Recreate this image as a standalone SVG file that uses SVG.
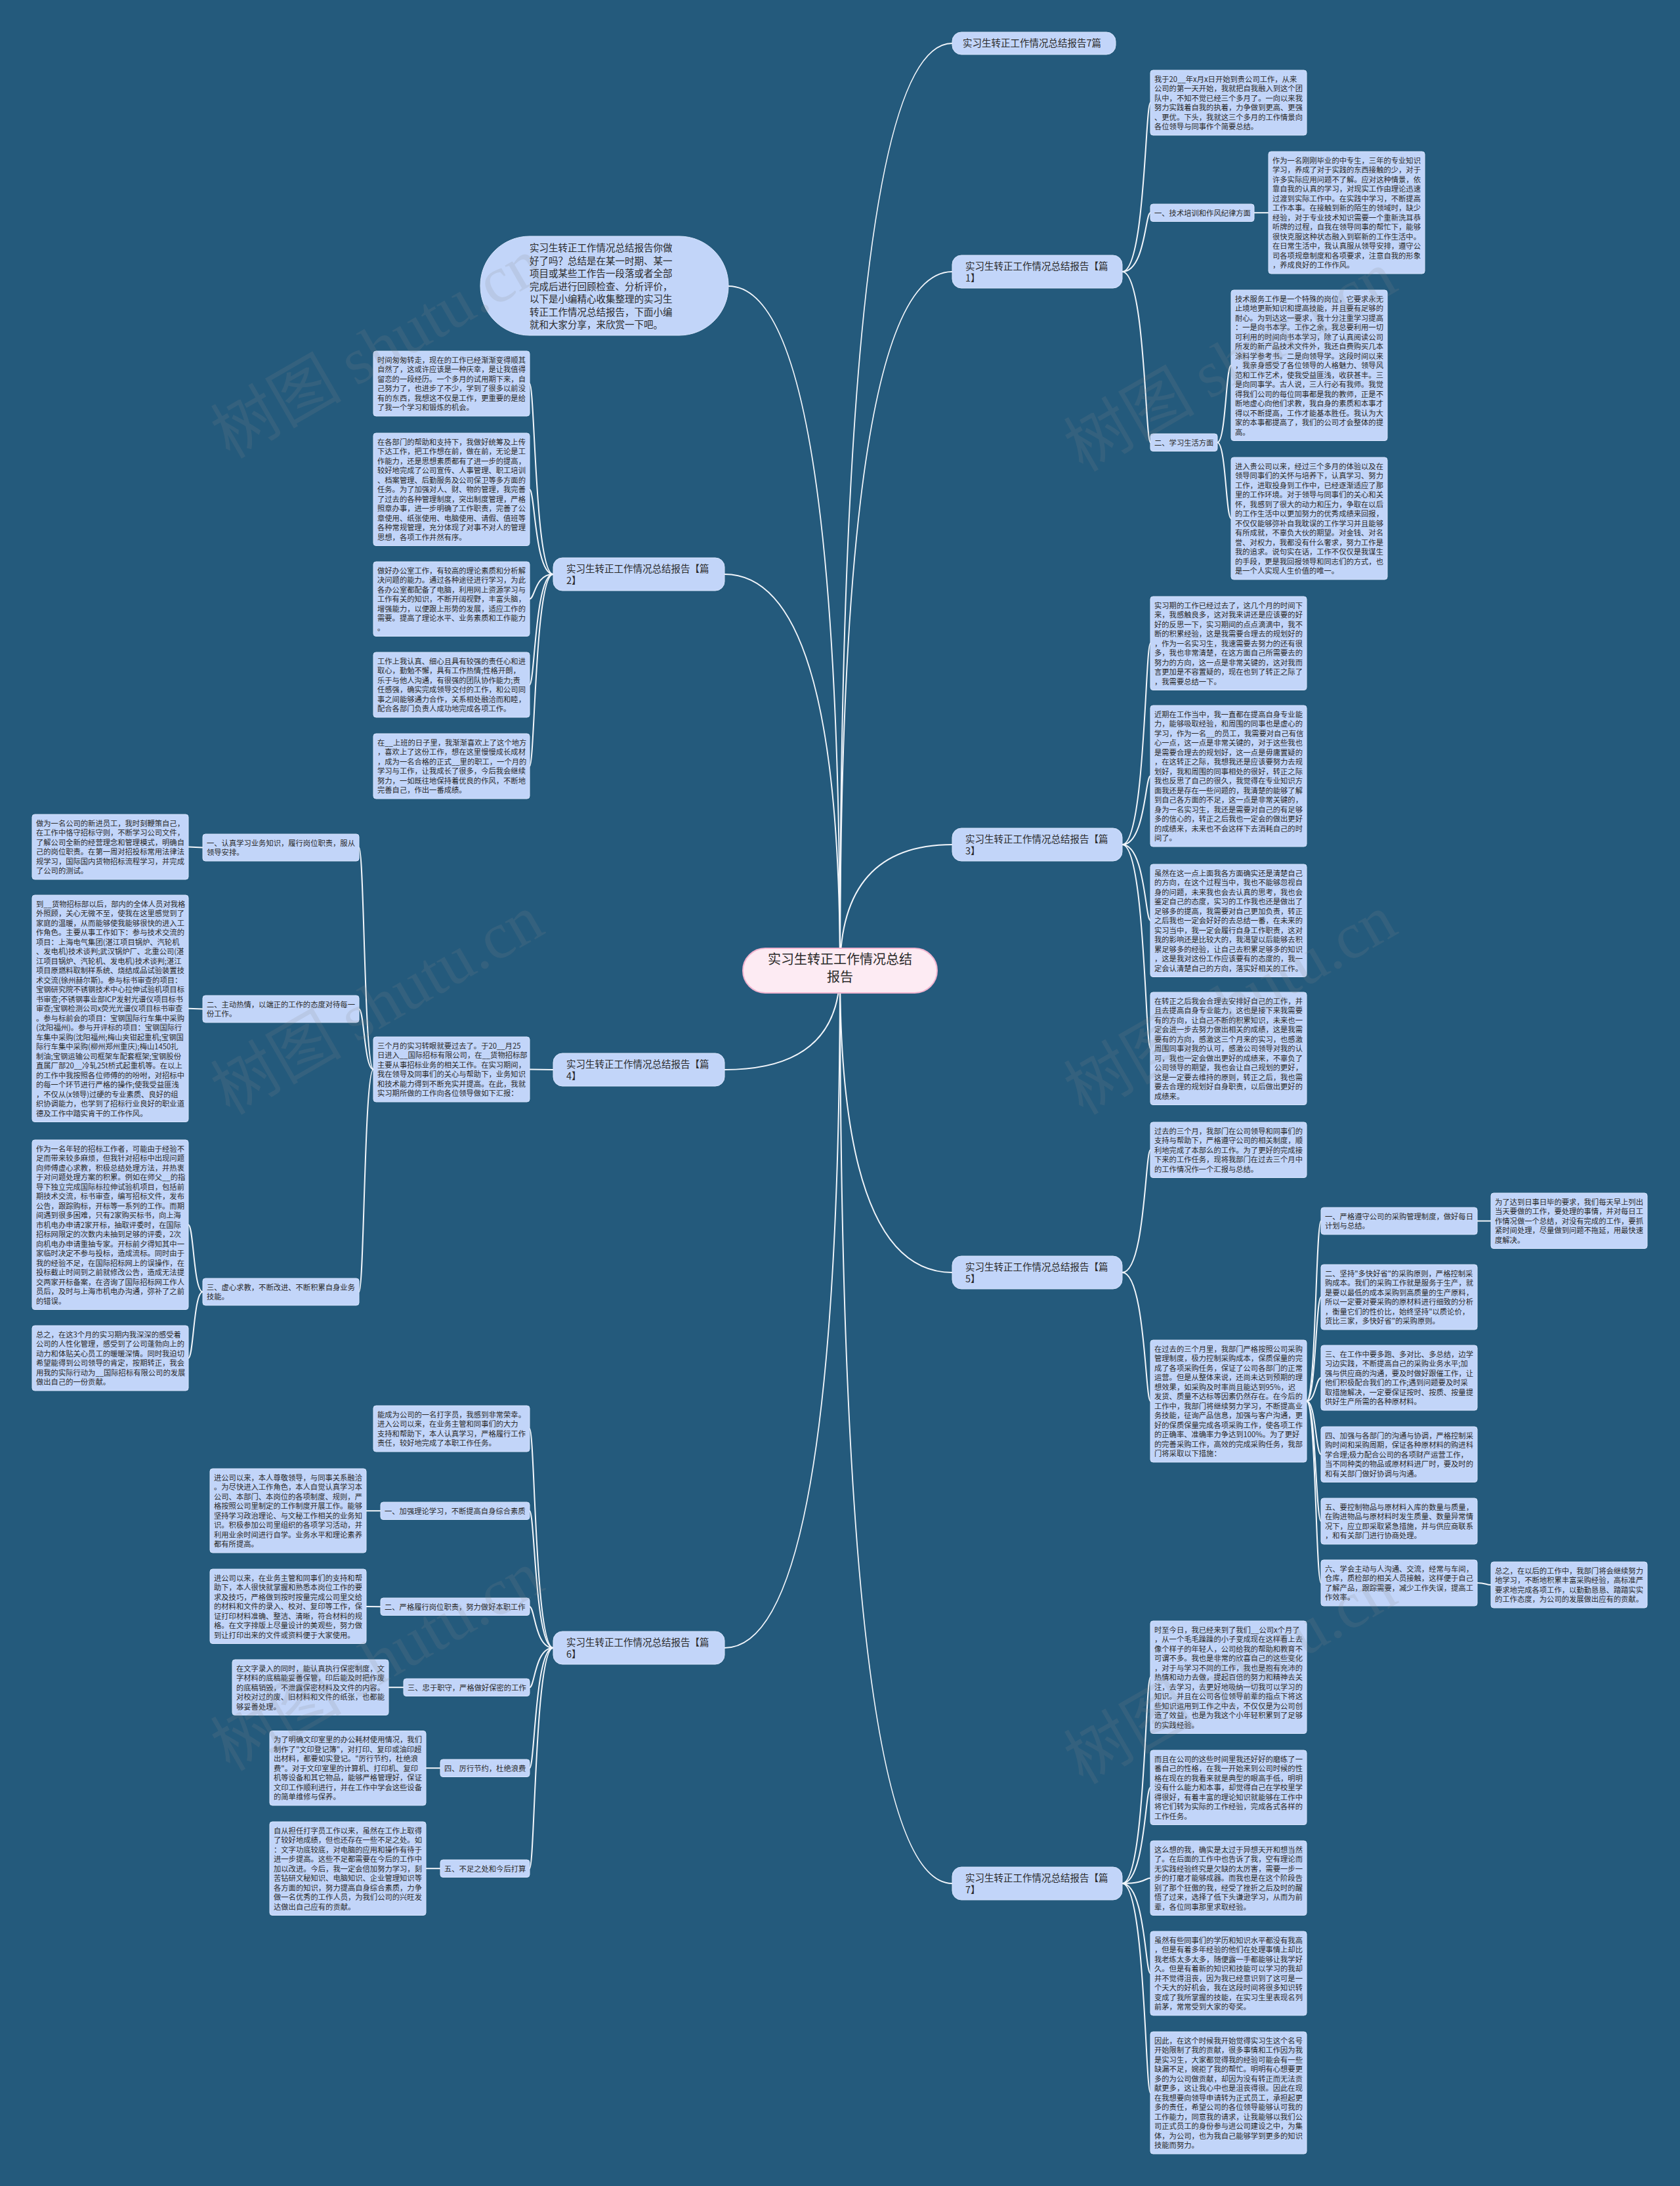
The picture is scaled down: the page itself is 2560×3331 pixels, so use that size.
<svg xmlns="http://www.w3.org/2000/svg" width="2560" height="3331" viewBox="0 0 2560 3331">
<style>
.bg{fill:#245a7c}
.box{fill:#c2d5f9;stroke:#d9e5fd;stroke-width:1}
.n1{fill:#c2d5f9;stroke:#d9e5fd;stroke-width:1}
.t{font-family:'Noto Sans CJK SC','Noto Sans',sans-serif;font-size:11.3px;fill:#2a2a2a}
.t1{font-family:'Noto Sans CJK SC','Noto Sans',sans-serif;font-size:14.5px;fill:#2a2a2a}
.c{fill:none;stroke:#f2f6fb;stroke-width:2}
.wm{font-family:'Noto Sans CJK SC','Liberation Serif',serif;font-size:100px;fill:#8a8a8a;opacity:0.16}
</style>
<rect class="bg" x="0" y="0" width="2560" height="3331"/>

<g id="connectors">
<path class="c" d="M1280,1479 Q1280,66 1451,66"/>
<path class="c" d="M1280,1479 Q1280,414 1451,414"/>
<path class="c" d="M1280,1479 Q1280,1287 1451,1287"/>
<path class="c" d="M1280,1479 Q1280,1939 1451,1939"/>
<path class="c" d="M1280,1479 Q1280,2870 1451,2870"/>
<path class="c" d="M1280,1479 Q1280,436 1110,436"/>
<path class="c" d="M1280,1479 Q1280,875 1104,875"/>
<path class="c" d="M1280,1479 Q1280,1630 1104,1630"/>
<path class="c" d="M1280,1479 Q1280,2511 1104,2511"/>

<path class="c" d="M1710,414 C1745,414 1745,156.5 1753,156.5"/>
<path class="c" d="M1710,414 C1745,414 1745,324.2 1753,324.2"/>
<path class="c" d="M1710,414 C1745,414 1745,674.2 1753,674.2"/>
<path class="c" d="M1911,324.2 L1933,324.2"/>
<path class="c" d="M1855,674.2 C1868,674.2 1868,556.7 1876,556.7"/>
<path class="c" d="M1855,674.2 C1868,674.2 1868,790 1876,790"/>

<path class="c" d="M1710,1287 C1745,1287 1745,980.2 1753,980.2"/>
<path class="c" d="M1710,1287 C1745,1287 1745,1182.5 1753,1182.5"/>
<path class="c" d="M1710,1287 C1745,1287 1745,1402.7 1753,1402.7"/>
<path class="c" d="M1710,1287 C1745,1287 1745,1597.7 1753,1597.7"/>

<path class="c" d="M1710,1939 C1745,1939 1745,1752.2 1753,1752.2"/>
<path class="c" d="M1710,1939 C1745,1939 1745,2135 1753,2135"/>
<path class="c" d="M1991,2135 C2005,2135 2005,1860.5 2013,1860.5"/>
<path class="c" d="M1991,2135 C2005,2135 2005,1976.5 2013,1976.5"/>
<path class="c" d="M1991,2135 C2005,2135 2005,2099.5 2013,2099.5"/>
<path class="c" d="M1991,2135 C2005,2135 2005,2216.2 2013,2216.2"/>
<path class="c" d="M1991,2135 C2005,2135 2005,2318 2013,2318"/>
<path class="c" d="M1991,2135 C2005,2135 2005,2412 2013,2412"/>
<path class="c" d="M2251,1860.5 L2272,1860.5"/>
<path class="c" d="M2251,2412 C2264,2412 2264,2415 2272,2415"/>

<path class="c" d="M1710,2870 C1745,2870 1745,2555.7 1753,2555.7"/>
<path class="c" d="M1710,2870 C1745,2870 1745,2723.7 1753,2723.7"/>
<path class="c" d="M1710,2870 C1745,2870 1745,2861.7 1753,2861.7"/>
<path class="c" d="M1710,2870 C1745,2870 1745,3007 1753,3007"/>
<path class="c" d="M1710,2870 C1745,2870 1745,3189 1753,3189"/>

<path class="c" d="M843,875 C815,875 815,584.5 807,584.5"/>
<path class="c" d="M843,875 C815,875 815,745.7 807,745.7"/>
<path class="c" d="M843,875 C815,875 815,912.7 807,912.7"/>
<path class="c" d="M843,875 C815,875 815,1043.5 807,1043.5"/>
<path class="c" d="M843,875 C815,875 815,1167.5 807,1167.5"/>

<path class="c" d="M843,1630 L807,1629.5"/>
<path class="c" d="M569,1629.5 C555,1629.5 555,1291.5 547,1291.5"/>
<path class="c" d="M569,1629.5 C555,1629.5 555,1537.5 547,1537.5"/>
<path class="c" d="M569,1629.5 C555,1629.5 555,1968.5 547,1968.5"/>
<path class="c" d="M309,1291.5 L287,1290.5"/>
<path class="c" d="M309,1537.5 L287,1536.7"/>
<path class="c" d="M309,1968.5 C295,1968.5 295,1866.2 287,1866.2"/>
<path class="c" d="M309,1968.5 C295,1968.5 295,2069.5 287,2069.5"/>

<path class="c" d="M843,2511 C815,2511 815,2177 807,2177"/>
<path class="c" d="M843,2511 C815,2511 815,2302.2 807,2302.2"/>
<path class="c" d="M843,2511 C815,2511 815,2448.2 807,2448.2"/>
<path class="c" d="M843,2511 C815,2511 815,2571.2 807,2571.2"/>
<path class="c" d="M843,2511 C815,2511 815,2694.2 807,2694.2"/>
<path class="c" d="M843,2511 C815,2511 815,2847.2 807,2847.2"/>
<path class="c" d="M580,2302.2 L558,2302.2"/>
<path class="c" d="M580,2448.2 L558,2448"/>
<path class="c" d="M615,2571.2 L592,2571.2"/>
<path class="c" d="M671,2694.2 L649,2694.2"/>
<path class="c" d="M671,2847.2 L649,2847.2"/>
</g>

<g id="center">
<rect x="1132" y="1445" width="296" height="68" rx="34" fill="#fdebf3" stroke="#f1b4cf" stroke-width="2"/>
<text x="1280" y="1469" text-anchor="middle" font-family="'Noto Sans CJK SC','Noto Sans',sans-serif" font-size="20" fill="#2a2a2a"><tspan x="1280" dy="0">实习生转正工作情况总结</tspan><tspan x="1280" dy="27">报告</tspan></text>
</g>

<g id="intro">
<rect class="box" x="732" y="360" width="378" height="151" rx="75"/>
<text class="t1" x="807" y="383"><tspan x="807" dy="0">实习生转正工作情况总结报告你做</tspan><tspan x="807" dy="19.5">好了吗？总结是在某一时期、某一</tspan><tspan x="807" dy="19.5">项目或某些工作告一段落或者全部</tspan><tspan x="807" dy="19.5">完成后进行回顾检查、分析评价，</tspan><tspan x="807" dy="19.5">以下是小编精心收集整理的实习生</tspan><tspan x="807" dy="19.5">转正工作情况总结报告，下面小编</tspan><tspan x="807" dy="19.5">就和大家分享，来欣赏一下吧。</tspan></text>
</g>

<g id="title7">
<rect class="n1" x="1451" y="49" width="249" height="34" rx="14"/>
<text class="t1" x="1467" y="71">实习生转正工作情况总结报告7篇</text>
</g>

<g id="p1">
<rect class="n1" x="1451" y="389" width="259" height="50" rx="14"/>
<text class="t1" x="1471" y="410.5"><tspan x="1471" dy="0">实习生转正工作情况总结报告【篇</tspan><tspan x="1471" dy="18">1】</tspan></text>
</g>
<g id="p1a">
<rect class="box" x="1753" y="107" width="238" height="99" rx="4"/>
<text class="t" x="1759" y="124.5"><tspan x="1759" dy="0">我于20__年x月x日开始到贵公司工作，从来</tspan><tspan x="1759" dy="14.5">公司的第一天开始，我就把自我融入到这个团</tspan><tspan x="1759" dy="14.5">队中，不知不觉已经三个多月了。一向以来我</tspan><tspan x="1759" dy="14.5">努力实践着自我的执着，力争做到更高、更强</tspan><tspan x="1759" dy="14.5">、更优。下头，我就这三个多月的工作情景向</tspan><tspan x="1759" dy="14.5">各位领导与同事作个简要总结。</tspan></text>
</g>
<g id="p1l1">
<rect class="box" x="1753" y="311" width="158" height="26.5" rx="4"/>
<text class="t" x="1759" y="328.5">一、技术培训和作风纪律方面</text>
</g>
<g id="p1b">
<rect class="box" x="1933" y="231" width="238" height="186" rx="4"/>
<text class="t" x="1939" y="248.5"><tspan x="1939" dy="0">作为一名刚刚毕业的中专生，三年的专业知识</tspan><tspan x="1939" dy="14.5">学习，养成了对于实践的东西接触的少，对于</tspan><tspan x="1939" dy="14.5">许多实际应用问题不了解。应对这种情景，依</tspan><tspan x="1939" dy="14.5">靠自我的认真的学习，对现实工作由理论迅速</tspan><tspan x="1939" dy="14.5">过渡到实际工作中。在实践中学习，不断提高</tspan><tspan x="1939" dy="14.5">工作本事。在接触到新的陌生的领域时，缺少</tspan><tspan x="1939" dy="14.5">经验，对于专业技术知识需要一个重新洗耳恭</tspan><tspan x="1939" dy="14.5">听牌的过程，自我在领导同事的帮忙下，能够</tspan><tspan x="1939" dy="14.5">很快克服这种状态融入到崭新的工作生活中。</tspan><tspan x="1939" dy="14.5">在日常生活中，我认真服从领导安排，遵守公</tspan><tspan x="1939" dy="14.5">司各项规章制度和各项要求，注意自我的形象</tspan><tspan x="1939" dy="14.5">，养成良好的工作作风。</tspan></text>
</g>
<g id="p1l2">
<rect class="box" x="1753" y="661" width="102" height="26.5" rx="4"/>
<text class="t" x="1759" y="678.5">二、学习生活方面</text>
</g>
<g id="p1c">
<rect class="box" x="1876" y="442" width="238" height="229.5" rx="4"/>
<text class="t" x="1882" y="459.5"><tspan x="1882" dy="0">技术服务工作是一个特殊的岗位，它要求永无</tspan><tspan x="1882" dy="14.5">止境地更新知识和提高技能，并且要有足够的</tspan><tspan x="1882" dy="14.5">耐心。为到达这一要求，我十分注重学习提高</tspan><tspan x="1882" dy="14.5">：一是向书本学。工作之余，我总要利用一切</tspan><tspan x="1882" dy="14.5">可利用的时间向书本学习，除了认真阅读公司</tspan><tspan x="1882" dy="14.5">所发的新产品技术文件外，我还自费购买几本</tspan><tspan x="1882" dy="14.5">涂料学参考书。二是向领导学。这段时间以来</tspan><tspan x="1882" dy="14.5">，我亲身感受了各位领导的人格魅力、领导风</tspan><tspan x="1882" dy="14.5">范和工作艺术，使我受益匪浅，收获甚丰。三</tspan><tspan x="1882" dy="14.5">是向同事学。古人说，三人行必有我师。我觉</tspan><tspan x="1882" dy="14.5">得我们公司的每位同事都是我的教师，正是不</tspan><tspan x="1882" dy="14.5">断地虚心向他们求教，我自身的素质和本事才</tspan><tspan x="1882" dy="14.5">得以不断提高，工作才能基本胜任。我认为大</tspan><tspan x="1882" dy="14.5">家的本事都提高了，我们的公司才会整体的提</tspan><tspan x="1882" dy="14.5">高。</tspan></text>
</g>
<g id="p1d">
<rect class="box" x="1876" y="697" width="238" height="186" rx="4"/>
<text class="t" x="1882" y="714.5"><tspan x="1882" dy="0">进入贵公司以来，经过三个多月的体验以及在</tspan><tspan x="1882" dy="14.5">领导同事们的关怀与培养下，认真学习、努力</tspan><tspan x="1882" dy="14.5">工作，进取投身到工作中，已经逐渐适应了那</tspan><tspan x="1882" dy="14.5">里的工作环境。对于领导与同事们的关心和关</tspan><tspan x="1882" dy="14.5">怀，我感到了很大的动力和压力，争取在以后</tspan><tspan x="1882" dy="14.5">的工作生活中以更加努力的优秀成绩来回报，</tspan><tspan x="1882" dy="14.5">不仅仅能够弥补自我耽误的工作学习并且能够</tspan><tspan x="1882" dy="14.5">有所成就，不辜负大伙的期望。对金钱、对名</tspan><tspan x="1882" dy="14.5">誉、对权力，我都没有什么奢求，努力工作是</tspan><tspan x="1882" dy="14.5">我的追求。说句实在话，工作不仅仅是我谋生</tspan><tspan x="1882" dy="14.5">的手段，更是我回报领导和同志们的方式，也</tspan><tspan x="1882" dy="14.5">是一个人实现人生价值的唯一。</tspan></text>
</g>

<g id="p3">
<rect class="n1" x="1451" y="1262" width="259" height="50" rx="14"/>
<text class="t1" x="1471" y="1283.5"><tspan x="1471" dy="0">实习生转正工作情况总结报告【篇</tspan><tspan x="1471" dy="18">3】</tspan></text>
</g>
<g id="p3a">
<rect class="box" x="1753" y="909" width="238" height="142.5" rx="4"/>
<text class="t" x="1759" y="926.5"><tspan x="1759" dy="0">实习期的工作已经过去了，这几个月的时间下</tspan><tspan x="1759" dy="14.5">来，我感触良多，这对我来讲还是应该要的好</tspan><tspan x="1759" dy="14.5">好的反思一下，实习期间的点点滴滴中，我不</tspan><tspan x="1759" dy="14.5">断的积累经验，这是我需要合理去的规划好的</tspan><tspan x="1759" dy="14.5">，作为一名实习生，我速需要去努力的还有很</tspan><tspan x="1759" dy="14.5">多，我也非常清楚，在这方面自己所需要去的</tspan><tspan x="1759" dy="14.5">努力的方向，这一点是非常关键的，这对我而</tspan><tspan x="1759" dy="14.5">言更加是不容置疑的，现在也到了转正之际了</tspan><tspan x="1759" dy="14.5">，我需要总结一下。</tspan></text>
</g>
<g id="p3b">
<rect class="box" x="1753" y="1075" width="238" height="215" rx="4"/>
<text class="t" x="1759" y="1092.5"><tspan x="1759" dy="0">近期在工作当中，我一直都在提高自身专业能</tspan><tspan x="1759" dy="14.5">力，能够吸取经验，和周围的同事也是虚心的</tspan><tspan x="1759" dy="14.5">学习，作为一名__的员工，我需要对自己有信</tspan><tspan x="1759" dy="14.5">心一点，这一点是非常关键的，对于这些我也</tspan><tspan x="1759" dy="14.5">是需要合理去的规划好，这一点是毋庸置疑的</tspan><tspan x="1759" dy="14.5">，在这转正之际，我想我还是应该要努力去规</tspan><tspan x="1759" dy="14.5">划好，我和周围的同事相处的很好，转正之际</tspan><tspan x="1759" dy="14.5">我也反思了自己的很久，我觉得在专业知识方</tspan><tspan x="1759" dy="14.5">面我还是存在一些问题的，我清楚的能够了解</tspan><tspan x="1759" dy="14.5">到自己各方面的不足，这一点是非常关键的，</tspan><tspan x="1759" dy="14.5">身为一名实习生，我还是需要对自己的有足够</tspan><tspan x="1759" dy="14.5">多的信心的，转正之后我也一定会的做出更好</tspan><tspan x="1759" dy="14.5">的成绩来，未来也不会这样下去消耗自己的时</tspan><tspan x="1759" dy="14.5">间了。</tspan></text>
</g>
<g id="p3c">
<rect class="box" x="1753" y="1317" width="238" height="171.5" rx="4"/>
<text class="t" x="1759" y="1334.5"><tspan x="1759" dy="0">虽然在这一点上面我各方面确实还是清楚自己</tspan><tspan x="1759" dy="14.5">的方向，在这个过程当中，我也不能够忽视自</tspan><tspan x="1759" dy="14.5">身的问题，未来我也会去认真的思考，我也会</tspan><tspan x="1759" dy="14.5">鉴定自己的态度，实习的工作我也还是做出了</tspan><tspan x="1759" dy="14.5">足够多的提高，我需要对自己更加负责，转正</tspan><tspan x="1759" dy="14.5">之后我也一定会好好的去总结一番，在未来的</tspan><tspan x="1759" dy="14.5">实习当中，我一定会履行自身工作职责，这对</tspan><tspan x="1759" dy="14.5">我的影响还是比较大的，我渴望以后能够去积</tspan><tspan x="1759" dy="14.5">累足够多的经验，让自己去积累足够多的知识</tspan><tspan x="1759" dy="14.5">，这是我对这份工作应该要有的态度的，我一</tspan><tspan x="1759" dy="14.5">定会认清楚自己的方向，落实好相关的工作。</tspan></text>
</g>
<g id="p3d">
<rect class="box" x="1753" y="1512" width="238" height="171.5" rx="4"/>
<text class="t" x="1759" y="1529.5"><tspan x="1759" dy="0">在转正之后我会合理去安排好自己的工作，并</tspan><tspan x="1759" dy="14.5">且去提高自身专业能力，这也是接下来我需要</tspan><tspan x="1759" dy="14.5">有的方向，让自己不断的积累知识，未来也一</tspan><tspan x="1759" dy="14.5">定会进一步去努力做出相关的成绩，这是我需</tspan><tspan x="1759" dy="14.5">要有的方向，感激这三个月来的实习，也感激</tspan><tspan x="1759" dy="14.5">周围同事对我的认可，感激公司领导对我的认</tspan><tspan x="1759" dy="14.5">可，我也一定会做出更好的成绩来，不辜负了</tspan><tspan x="1759" dy="14.5">公司领导的期望，我也会让自己规划的更好，</tspan><tspan x="1759" dy="14.5">这是一定要去维持的原则，转正之后，我也需</tspan><tspan x="1759" dy="14.5">要去合理的规划好自身职责，以后做出更好的</tspan><tspan x="1759" dy="14.5">成绩来。</tspan></text>
</g>

<g id="p5">
<rect class="n1" x="1451" y="1914" width="259" height="50" rx="14"/>
<text class="t1" x="1471" y="1935.5"><tspan x="1471" dy="0">实习生转正工作情况总结报告【篇</tspan><tspan x="1471" dy="18">5】</tspan></text>
</g>
<g id="p5a">
<rect class="box" x="1753" y="1710" width="238" height="84.5" rx="4"/>
<text class="t" x="1759" y="1727.5"><tspan x="1759" dy="0">过去的三个月，我部门在公司领导和同事们的</tspan><tspan x="1759" dy="14.5">支持与帮助下，严格遵守公司的相关制度，顺</tspan><tspan x="1759" dy="14.5">利地完成了本部么的工作。为了更好的完成接</tspan><tspan x="1759" dy="14.5">下来的工作任务，现将我部门在过去三个月中</tspan><tspan x="1759" dy="14.5">的工作情况作一个汇报与总结。</tspan></text>
</g>
<g id="p5b">
<rect class="box" x="1753" y="2042" width="238" height="186" rx="4"/>
<text class="t" x="1759" y="2059.5"><tspan x="1759" dy="0">在过去的三个月里，我部门严格按照公司采购</tspan><tspan x="1759" dy="14.5">管理制度，极力控制采购成本，保质保量的完</tspan><tspan x="1759" dy="14.5">成了各项采购任务，保证了公司各部门的正常</tspan><tspan x="1759" dy="14.5">运营。但是从整体来说，还尚未达到预期的理</tspan><tspan x="1759" dy="14.5">想效果，如采购及时率尚且能达到95%，迟</tspan><tspan x="1759" dy="14.5">发货、质量不达标等因素仍然存在。在今后的</tspan><tspan x="1759" dy="14.5">工作中，我部门将继续努力学习，不断提高业</tspan><tspan x="1759" dy="14.5">务技能，征询产品信息，加强与客户沟通，更</tspan><tspan x="1759" dy="14.5">好的保质保量完成各项采购工作，使各项工作</tspan><tspan x="1759" dy="14.5">的正确率、准确率力争达到100%。为了更好</tspan><tspan x="1759" dy="14.5">的完善采购工作，高效的完成采购任务，我部</tspan><tspan x="1759" dy="14.5">门将采取以下措施：</tspan></text>
</g>
<g id="p5i1">
<rect class="box" x="2013" y="1840" width="238" height="41" rx="4"/>
<text class="t" x="2019" y="1857.5"><tspan x="2019" dy="0">一、严格遵守公司的采购管理制度，做好每日</tspan><tspan x="2019" dy="14.5">计划与总结。</tspan></text>
</g>
<g id="p5i2">
<rect class="box" x="2013" y="1927" width="238" height="99" rx="4"/>
<text class="t" x="2019" y="1944.5"><tspan x="2019" dy="0">二、坚持"多快好省"的采购原则，严格控制采</tspan><tspan x="2019" dy="14.5">购成本。我们的采购工作就是服务于生产，就</tspan><tspan x="2019" dy="14.5">是要以最低的成本采购到高质量的生产原料，</tspan><tspan x="2019" dy="14.5">所以一定要对要采购的原材料进行细致的分析</tspan><tspan x="2019" dy="14.5">，衡量它们的性价比，始终坚持"以质论价，</tspan><tspan x="2019" dy="14.5">货比三家，多快好省"的采购原则。</tspan></text>
</g>
<g id="p5i3">
<rect class="box" x="2013" y="2050" width="238" height="99" rx="4"/>
<text class="t" x="2019" y="2067.5"><tspan x="2019" dy="0">三、在工作中要多跑、多对比、多总结，边学</tspan><tspan x="2019" dy="14.5">习边实践，不断提高自己的采购业务水平;加</tspan><tspan x="2019" dy="14.5">强与供应商的沟通，要及时做好跟催工作，让</tspan><tspan x="2019" dy="14.5">他们积极配合我们的工作;遇到问题要及时采</tspan><tspan x="2019" dy="14.5">取措施解决，一定要保证按时、按质、按量提</tspan><tspan x="2019" dy="14.5">供好生产所需的各种原材料。</tspan></text>
</g>
<g id="p5i4">
<rect class="box" x="2013" y="2174" width="238" height="84.5" rx="4"/>
<text class="t" x="2019" y="2191.5"><tspan x="2019" dy="0">四、加强与各部门的沟通与协调，严格控制采</tspan><tspan x="2019" dy="14.5">购时间和采购周期，保证各种原材料的购进科</tspan><tspan x="2019" dy="14.5">学合理;极力配合公司的各项财产运营工作，</tspan><tspan x="2019" dy="14.5">当不同种类的物品或原材料进厂时，要及时的</tspan><tspan x="2019" dy="14.5">和有关部门做好协调与沟通。</tspan></text>
</g>
<g id="p5i5">
<rect class="box" x="2013" y="2283" width="238" height="70" rx="4"/>
<text class="t" x="2019" y="2300.5"><tspan x="2019" dy="0">五、要控制物品与原材料入库的数量与质量，</tspan><tspan x="2019" dy="14.5">在购进物品与原材料时发生质量、数量异常情</tspan><tspan x="2019" dy="14.5">况下，应立即采取紧急措施，并与供应商联系</tspan><tspan x="2019" dy="14.5">，和有关部门进行协商处理。</tspan></text>
</g>
<g id="p5i6">
<rect class="box" x="2013" y="2377" width="238" height="70" rx="4"/>
<text class="t" x="2019" y="2394.5"><tspan x="2019" dy="0">六、学会主动与人沟通、交流，经常与车间，</tspan><tspan x="2019" dy="14.5">仓库，质检部的相关人员接触，这样便于自己</tspan><tspan x="2019" dy="14.5">了解产品，跟踪需要，减少工作失误，提高工</tspan><tspan x="2019" dy="14.5">作效率。</tspan></text>
</g>
<g id="p5r1">
<rect class="box" x="2272" y="1818" width="238" height="84.5" rx="4"/>
<text class="t" x="2278" y="1835.5"><tspan x="2278" dy="0">为了达到日事日毕的要求，我们每天早上列出</tspan><tspan x="2278" dy="14.5">当天要做的工作，要处理的事情，并对每日工</tspan><tspan x="2278" dy="14.5">作情况做一个总结，对没有完成的工作，要抓</tspan><tspan x="2278" dy="14.5">紧时间处理，尽量做到问题不拖延，用最快速</tspan><tspan x="2278" dy="14.5">度解决。</tspan></text>
</g>
<g id="p5r2">
<rect class="box" x="2272" y="2380" width="238" height="70" rx="4"/>
<text class="t" x="2278" y="2397.5"><tspan x="2278" dy="0">总之，在以后的工作中，我部门将会继续努力</tspan><tspan x="2278" dy="14.5">地学习，不断地积累丰富采购经验，高标准严</tspan><tspan x="2278" dy="14.5">要求地完成各项工作，以勤勤恳恳、踏踏实实</tspan><tspan x="2278" dy="14.5">的工作态度，为公司的发展做出应有的贡献。</tspan></text>
</g>

<g id="p7">
<rect class="n1" x="1451" y="2845" width="259" height="50" rx="14"/>
<text class="t1" x="1471" y="2866.5"><tspan x="1471" dy="0">实习生转正工作情况总结报告【篇</tspan><tspan x="1471" dy="18">7】</tspan></text>
</g>
<g id="p7a">
<rect class="box" x="1753" y="2470" width="238" height="171.5" rx="4"/>
<text class="t" x="1759" y="2487.5"><tspan x="1759" dy="0">时至今日，我已经来到了我们__公司x个月了</tspan><tspan x="1759" dy="14.5">，从一个毛毛躁躁的小子变成现在这样看上去</tspan><tspan x="1759" dy="14.5">像个样子的年轻人，公司给我的帮助和教育不</tspan><tspan x="1759" dy="14.5">可谓不多。我也是非常的欣喜自己的这些变化</tspan><tspan x="1759" dy="14.5">，对于与学习不同的工作，我也是抱有充沛的</tspan><tspan x="1759" dy="14.5">热情和动力去做，提起百倍的努力和精神去关</tspan><tspan x="1759" dy="14.5">注，去学习，去更好地吸纳一切我可以学习的</tspan><tspan x="1759" dy="14.5">知识。并且在公司各位领导前辈的指点下将这</tspan><tspan x="1759" dy="14.5">些知识运用到工作之中去，不仅仅是为公司创</tspan><tspan x="1759" dy="14.5">造了效益，也是为我这个小年轻积累到了足够</tspan><tspan x="1759" dy="14.5">的实践经验。</tspan></text>
</g>
<g id="p7b">
<rect class="box" x="1753" y="2667" width="238" height="113.5" rx="4"/>
<text class="t" x="1759" y="2684.5"><tspan x="1759" dy="0">而且在公司的这些时间里我还好好的磨练了一</tspan><tspan x="1759" dy="14.5">番自己的性格，在我一开始来到公司时候的性</tspan><tspan x="1759" dy="14.5">格在现在的我看来就是典型的眼高手低，明明</tspan><tspan x="1759" dy="14.5">没有什么能力和本事，却觉得自己在学校里学</tspan><tspan x="1759" dy="14.5">得很好，有着丰富的理论知识就能够在工作中</tspan><tspan x="1759" dy="14.5">将它们转为实际的工作经验，完成各式各样的</tspan><tspan x="1759" dy="14.5">工作任务。</tspan></text>
</g>
<g id="p7c">
<rect class="box" x="1753" y="2805" width="238" height="113.5" rx="4"/>
<text class="t" x="1759" y="2822.5"><tspan x="1759" dy="0">这么想的我，确实是太过于异想天开和想当然</tspan><tspan x="1759" dy="14.5">了。在后面的工作中也告诉了我，空有理论而</tspan><tspan x="1759" dy="14.5">无实践经验终究是欠缺的太厉害，需要一步一</tspan><tspan x="1759" dy="14.5">步的打磨才能够成器。而我也是在这个阶段告</tspan><tspan x="1759" dy="14.5">别了那个狂傲的我，经受了挫折之后及时的醒</tspan><tspan x="1759" dy="14.5">悟了过来，选择了低下头谦逊学习，从而为前</tspan><tspan x="1759" dy="14.5">辈，各位同事那里求取经验。</tspan></text>
</g>
<g id="p7d">
<rect class="box" x="1753" y="2943" width="238" height="128" rx="4"/>
<text class="t" x="1759" y="2960.5"><tspan x="1759" dy="0">虽然有些同事们的学历和知识水平都没有我高</tspan><tspan x="1759" dy="14.5">，但是有着多年经验的他们在处理事情上却比</tspan><tspan x="1759" dy="14.5">我老练太多太多，随便露一手都能够让我学好</tspan><tspan x="1759" dy="14.5">久。但是有着新的知识和技能可以学习的我却</tspan><tspan x="1759" dy="14.5">并不觉得沮丧，因为我已经意识到了这可是一</tspan><tspan x="1759" dy="14.5">个天大的好机会，我在这段时间将很多知识转</tspan><tspan x="1759" dy="14.5">变成了我所掌握的技能，在实习生里表现名列</tspan><tspan x="1759" dy="14.5">前茅，常常受到大家的夸奖。</tspan></text>
</g>
<g id="p7e">
<rect class="box" x="1753" y="3096" width="238" height="186" rx="4"/>
<text class="t" x="1759" y="3113.5"><tspan x="1759" dy="0">因此，在这个时候我开始觉得实习生这个名号</tspan><tspan x="1759" dy="14.5">开始限制了我的贡献，很多事情和工作因为我</tspan><tspan x="1759" dy="14.5">是实习生，大家都觉得我的经验可能会有一些</tspan><tspan x="1759" dy="14.5">缺漏不足，婉拒了我的帮忙。明明有心想要更</tspan><tspan x="1759" dy="14.5">多的为公司做贡献，却因为没有转正而无法贡</tspan><tspan x="1759" dy="14.5">献更多，这让我心中也是沮丧得很。因此在现</tspan><tspan x="1759" dy="14.5">在我想要向领导申请转为正式员工，承担起更</tspan><tspan x="1759" dy="14.5">多的责任，希望公司的各位领导能够认可我的</tspan><tspan x="1759" dy="14.5">工作能力，同意我的请求，让我能够以我们公</tspan><tspan x="1759" dy="14.5">司正式员工的身份参与进公司建设之中，为集</tspan><tspan x="1759" dy="14.5">体，为公司，也为我自己能够学到更多的知识</tspan><tspan x="1759" dy="14.5">技能而努力。</tspan></text>
</g>

<g id="p2">
<rect class="n1" x="843" y="850" width="261" height="50" rx="14"/>
<text class="t1" x="863" y="871.5"><tspan x="863" dy="0">实习生转正工作情况总结报告【篇</tspan><tspan x="863" dy="18">2】</tspan></text>
</g>
<g id="p2a">
<rect class="box" x="569" y="535" width="238" height="99" rx="4"/>
<text class="t" x="575" y="552.5"><tspan x="575" dy="0">时间匆匆转走，现在的工作已经渐渐变得顺其</tspan><tspan x="575" dy="14.5">自然了，这或许应该是一种庆幸，是让我值得</tspan><tspan x="575" dy="14.5">留恋的一段经历。一个多月的试用期下来，自</tspan><tspan x="575" dy="14.5">己努力了，也进步了不少，学到了很多以前没</tspan><tspan x="575" dy="14.5">有的东西，我想这不仅是工作，更重要的是给</tspan><tspan x="575" dy="14.5">了我一个学习和锻炼的机会。</tspan></text>
</g>
<g id="p2b">
<rect class="box" x="569" y="660" width="238" height="171.5" rx="4"/>
<text class="t" x="575" y="677.5"><tspan x="575" dy="0">在各部门的帮助和支持下，我做好统筹及上传</tspan><tspan x="575" dy="14.5">下达工作，把工作想在前，做在前，无论是工</tspan><tspan x="575" dy="14.5">作能力，还是思想素质都有了进一步的提高，</tspan><tspan x="575" dy="14.5">较好地完成了公司宣传、人事管理、职工培训</tspan><tspan x="575" dy="14.5">、档案管理、后勤服务及公司保卫等多方面的</tspan><tspan x="575" dy="14.5">任务。为了加强对人、财、物的管理，我完善</tspan><tspan x="575" dy="14.5">了过去的各种管理制度，突出制度管理，严格</tspan><tspan x="575" dy="14.5">照章办事，进一步明确了工作职责，完善了公</tspan><tspan x="575" dy="14.5">章使用、纸张使用、电脑使用、请假、值班等</tspan><tspan x="575" dy="14.5">各种常规管理，充分体现了对事不对人的管理</tspan><tspan x="575" dy="14.5">思想，各项工作井然有序。</tspan></text>
</g>
<g id="p2c">
<rect class="box" x="569" y="856" width="238" height="113.5" rx="4"/>
<text class="t" x="575" y="873.5"><tspan x="575" dy="0">做好办公室工作，有较高的理论素质和分析解</tspan><tspan x="575" dy="14.5">决问题的能力。通过各种途径进行学习，为此</tspan><tspan x="575" dy="14.5">各办公室都配备了电脑，利用网上资源学习与</tspan><tspan x="575" dy="14.5">工作有关的知识，不断开阔视野，丰富头脑，</tspan><tspan x="575" dy="14.5">增强能力，以便跟上形势的发展，适应工作的</tspan><tspan x="575" dy="14.5">需要。提高了理论水平、业务素质和工作能力</tspan><tspan x="575" dy="14.5">。</tspan></text>
</g>
<g id="p2d">
<rect class="box" x="569" y="994" width="238" height="99" rx="4"/>
<text class="t" x="575" y="1011.5"><tspan x="575" dy="0">工作上我认真、细心且具有较强的责任心和进</tspan><tspan x="575" dy="14.5">取心，勤勉不懈，具有工作热情;性格开朗，</tspan><tspan x="575" dy="14.5">乐于与他人沟通，有很强的团队协作能力;责</tspan><tspan x="575" dy="14.5">任感强，确实完成领导交付的工作，和公司同</tspan><tspan x="575" dy="14.5">事之间能够通力合作，关系相处融洽而和睦，</tspan><tspan x="575" dy="14.5">配合各部门负责人成功地完成各项工作。</tspan></text>
</g>
<g id="p2e">
<rect class="box" x="569" y="1118" width="238" height="99" rx="4"/>
<text class="t" x="575" y="1135.5"><tspan x="575" dy="0">在__上班的日子里，我渐渐喜欢上了这个地方</tspan><tspan x="575" dy="14.5">，喜欢上了这份工作，想在这里慢慢成长成材</tspan><tspan x="575" dy="14.5">，成为一名合格的正式__里的职工，一个月的</tspan><tspan x="575" dy="14.5">学习与工作，让我成长了很多，今后我会继续</tspan><tspan x="575" dy="14.5">努力，一如既往地保持着优良的作风，不断地</tspan><tspan x="575" dy="14.5">完善自己，作出一番成绩。</tspan></text>
</g>

<g id="p4">
<rect class="n1" x="843" y="1605" width="261" height="50" rx="14"/>
<text class="t1" x="863" y="1626.5"><tspan x="863" dy="0">实习生转正工作情况总结报告【篇</tspan><tspan x="863" dy="18">4】</tspan></text>
</g>
<g id="p4a">
<rect class="box" x="569" y="1580" width="238" height="99" rx="4"/>
<text class="t" x="575" y="1597.5"><tspan x="575" dy="0">三个月的实习转眼就要过去了。于20__月25</tspan><tspan x="575" dy="14.5">日进入__国际招标有限公司，在__货物招标部</tspan><tspan x="575" dy="14.5">主要从事招标业务的相关工作。在实习期间，</tspan><tspan x="575" dy="14.5">我在领导及同事们的关心与帮助下，业务知识</tspan><tspan x="575" dy="14.5">和技术能力得到不断充实并提高。在此，我就</tspan><tspan x="575" dy="14.5">实习期所做的工作向各位领导做如下汇报：</tspan></text>
</g>
<g id="p4i1">
<rect class="box" x="309" y="1271" width="238" height="41" rx="4"/>
<text class="t" x="315" y="1288.5"><tspan x="315" dy="0">一、认真学习业务知识，履行岗位职责，服从</tspan><tspan x="315" dy="14.5">领导安排。</tspan></text>
</g>
<g id="p4i2">
<rect class="box" x="309" y="1517" width="238" height="41" rx="4"/>
<text class="t" x="315" y="1534.5"><tspan x="315" dy="0">二、主动热情，以端正的工作的态度对待每一</tspan><tspan x="315" dy="14.5">份工作。</tspan></text>
</g>
<g id="p4i3">
<rect class="box" x="309" y="1948" width="238" height="41" rx="4"/>
<text class="t" x="315" y="1965.5"><tspan x="315" dy="0">三、虚心求教，不断改进、不断积累自身业务</tspan><tspan x="315" dy="14.5">技能。</tspan></text>
</g>
<g id="p4b">
<rect class="box" x="49" y="1241" width="238" height="99" rx="4"/>
<text class="t" x="55" y="1258.5"><tspan x="55" dy="0">做为一名公司的新进员工，我时刻鞭策自己，</tspan><tspan x="55" dy="14.5">在工作中恪守招标守则，不断学习公司文件，</tspan><tspan x="55" dy="14.5">了解公司全新的经营理念和管理模式，明确自</tspan><tspan x="55" dy="14.5">己的岗位职责。在第一周对招投标常用法律法</tspan><tspan x="55" dy="14.5">规学习，国际国内货物招标流程学习，并完成</tspan><tspan x="55" dy="14.5">了公司的测试。</tspan></text>
</g>
<g id="p4c">
<rect class="box" x="49" y="1364" width="238" height="345.5" rx="4"/>
<text class="t" x="55" y="1381.5"><tspan x="55" dy="0">到__货物招标部以后，部内的全体人员对我格</tspan><tspan x="55" dy="14.5">外照顾，关心无微不至，使我在这里感觉到了</tspan><tspan x="55" dy="14.5">家庭的温暖，从而能够使我能够很快的进入工</tspan><tspan x="55" dy="14.5">作角色。主要从事工作如下：参与技术交流的</tspan><tspan x="55" dy="14.5">项目：上海电气集团(湛江项目锅炉、汽轮机</tspan><tspan x="55" dy="14.5">、发电机)技术谈判;武汉锅炉厂、北重公司(湛</tspan><tspan x="55" dy="14.5">江项目锅炉、汽轮机、发电机)技术谈判;湛江</tspan><tspan x="55" dy="14.5">项目原燃料取制样系统、烧结成品试验装置技</tspan><tspan x="55" dy="14.5">术交流(徐州赫尔斯)。参与标书审查的项目：</tspan><tspan x="55" dy="14.5">宝钢研究院不锈钢技术中心拉伸试验机项目标</tspan><tspan x="55" dy="14.5">书审查;不锈钢事业部ICP发射光谱仪项目标书</tspan><tspan x="55" dy="14.5">审查;宝钢检测公司x荧光光谱仪项目标书审查</tspan><tspan x="55" dy="14.5">。参与标前会的项目：宝钢国际行车集中采购</tspan><tspan x="55" dy="14.5">(沈阳福州)。参与开评标的项目：宝钢国际行</tspan><tspan x="55" dy="14.5">车集中采购(沈阳福州;梅山夹钳起重机;宝钢国</tspan><tspan x="55" dy="14.5">际行车集中采购(柳州郑州重庆);梅山1450扎</tspan><tspan x="55" dy="14.5">制油;宝钢运输公司框架车配套框架;宝钢股份</tspan><tspan x="55" dy="14.5">直属厂部20__冷轧25t桥式起重机等。在以上</tspan><tspan x="55" dy="14.5">的工作中我按照各位师傅的的吩咐，对招标中</tspan><tspan x="55" dy="14.5">的每一个环节进行严格的操作;使我受益匪浅</tspan><tspan x="55" dy="14.5">，不仅从(x领导)过硬的专业素质、良好的组</tspan><tspan x="55" dy="14.5">织协调能力，也学到了招标行业良好的职业道</tspan><tspan x="55" dy="14.5">德及工作中踏实肯干的工作作风。</tspan></text>
</g>
<g id="p4d">
<rect class="box" x="49" y="1737" width="238" height="258.5" rx="4"/>
<text class="t" x="55" y="1754.5"><tspan x="55" dy="0">作为一名年轻的招标工作者，可能由于经验不</tspan><tspan x="55" dy="14.5">足而带来较多麻烦，但我针对招标中出现问题</tspan><tspan x="55" dy="14.5">向师傅虚心求教，积极总结处理方法，并热衷</tspan><tspan x="55" dy="14.5">于对问题处理方案的积累。例如在师父__的指</tspan><tspan x="55" dy="14.5">导下独立完成国际标拉伸试验机项目，包括前</tspan><tspan x="55" dy="14.5">期技术交流，标书审查，编写招标文件，发布</tspan><tspan x="55" dy="14.5">公告，跟踪购标，开标等一系列的工作。而期</tspan><tspan x="55" dy="14.5">间遇到很多困难，只有2家购买标书，向上海</tspan><tspan x="55" dy="14.5">市机电办申请2家开标，抽取评委时，在国际</tspan><tspan x="55" dy="14.5">招标网限定的次数内未抽到足够的评委，2次</tspan><tspan x="55" dy="14.5">向机电办申请重抽专家。开标前夕得知其中一</tspan><tspan x="55" dy="14.5">家临时决定不参与投标，造成流标。同时由于</tspan><tspan x="55" dy="14.5">我的经验不足，在国际招标网上的误操作，在</tspan><tspan x="55" dy="14.5">投标截止时间到之前就修改公告，造成无法提</tspan><tspan x="55" dy="14.5">交两家开标备案，在咨询了国际招标网工作人</tspan><tspan x="55" dy="14.5">员后，及时与上海市机电办沟通，弥补了之前</tspan><tspan x="55" dy="14.5">的错误。</tspan></text>
</g>
<g id="p4e">
<rect class="box" x="49" y="2020" width="238" height="99" rx="4"/>
<text class="t" x="55" y="2037.5"><tspan x="55" dy="0">总之，在这3个月的实习期内我深深的感受着</tspan><tspan x="55" dy="14.5">公司的人性化管理，感受到了公司蓬勃向上的</tspan><tspan x="55" dy="14.5">动力和体贴关心员工的暖暖深情。同时我迫切</tspan><tspan x="55" dy="14.5">希望能得到公司领导的肯定，按期转正，我会</tspan><tspan x="55" dy="14.5">用我的实际行动为__国际招标有限公司的发展</tspan><tspan x="55" dy="14.5">做出自己的一份贡献。</tspan></text>
</g>

<g id="p6">
<rect class="n1" x="843" y="2486" width="261" height="50" rx="14"/>
<text class="t1" x="863" y="2507.5"><tspan x="863" dy="0">实习生转正工作情况总结报告【篇</tspan><tspan x="863" dy="18">6】</tspan></text>
</g>
<g id="p6a">
<rect class="box" x="569" y="2142" width="238" height="70" rx="4"/>
<text class="t" x="575" y="2159.5"><tspan x="575" dy="0">能成为公司的一名打字员，我感到非常荣幸。</tspan><tspan x="575" dy="14.5">进入公司以来，在业务主管和同事们的大力</tspan><tspan x="575" dy="14.5">支持和帮助下，本人认真学习，严格履行工作</tspan><tspan x="575" dy="14.5">责任，较好地完成了本职工作任务。</tspan></text>
</g>
<g id="p6l1">
<rect class="box" x="580" y="2289" width="227" height="26.5" rx="4"/>
<text class="t" x="586" y="2306.5">一、加强理论学习，不断提高自身综合素质</text>
</g>
<g id="p6t1">
<rect class="box" x="320" y="2238" width="238" height="128" rx="4"/>
<text class="t" x="326" y="2255.5"><tspan x="326" dy="0">进公司以来，本人尊敬领导，与同事关系融洽</tspan><tspan x="326" dy="14.5">。为尽快进入工作角色，本人自觉认真学习本</tspan><tspan x="326" dy="14.5">公司、本部门、本岗位的各项制度、规则，严</tspan><tspan x="326" dy="14.5">格按照公司里制定的工作制度开展工作。能够</tspan><tspan x="326" dy="14.5">坚持学习政治理论、与文秘工作相关的业务知</tspan><tspan x="326" dy="14.5">识。积极参加公司里组织的各项学习活动，并</tspan><tspan x="326" dy="14.5">利用业余时间进行自学。业务水平和理论素养</tspan><tspan x="326" dy="14.5">都有所提高。</tspan></text>
</g>
<g id="p6l2">
<rect class="box" x="580" y="2435" width="227" height="26.5" rx="4"/>
<text class="t" x="586" y="2452.5">二、严格履行岗位职责，努力做好本职工作</text>
</g>
<g id="p6t2">
<rect class="box" x="320" y="2391" width="238" height="113.5" rx="4"/>
<text class="t" x="326" y="2408.5"><tspan x="326" dy="0">进公司以来，在业务主管和同事们的支持和帮</tspan><tspan x="326" dy="14.5">助下，本人很快就掌握和熟悉本岗位工作的要</tspan><tspan x="326" dy="14.5">求及技巧，严格做到按时按量完成公司里交给</tspan><tspan x="326" dy="14.5">的材料和文件的录入、校对、复印等工作，保</tspan><tspan x="326" dy="14.5">证打印材料准确、整洁、清晰，符合材料的规</tspan><tspan x="326" dy="14.5">格。在文字排版上尽量设计的美观些，努力做</tspan><tspan x="326" dy="14.5">到让打印出来的文件或资料便于大家使用。</tspan></text>
</g>
<g id="p6l3">
<rect class="box" x="615" y="2558" width="192" height="26.5" rx="4"/>
<text class="t" x="621" y="2575.5">三、忠于职守，严格做好保密的工作</text>
</g>
<g id="p6t3">
<rect class="box" x="354" y="2529" width="238" height="84.5" rx="4"/>
<text class="t" x="360" y="2546.5"><tspan x="360" dy="0">在文字录入的同时，能认真执行保密制度，文</tspan><tspan x="360" dy="14.5">字材料的底稿能妥善保管，印后能及时把作废</tspan><tspan x="360" dy="14.5">的底稿销毁，不泄露保密材料及文件的内容。</tspan><tspan x="360" dy="14.5">对校对过的废、旧材料和文件的纸张，也都能</tspan><tspan x="360" dy="14.5">够妥善处理。</tspan></text>
</g>
<g id="p6l4">
<rect class="box" x="671" y="2681" width="136" height="26.5" rx="4"/>
<text class="t" x="677" y="2698.5">四、厉行节约，杜绝浪费</text>
</g>
<g id="p6t4">
<rect class="box" x="411" y="2637.5" width="238" height="113.5" rx="4"/>
<text class="t" x="417" y="2655"><tspan x="417" dy="0">为了明确文印室里的办公耗材使用情况，我们</tspan><tspan x="417" dy="14.5">制作了"文印登记簿"，对打印、复印或油印超</tspan><tspan x="417" dy="14.5">出材料，都要如实登记。"厉行节约，杜绝浪</tspan><tspan x="417" dy="14.5">费"。对于文印室里的计算机、打印机、复印</tspan><tspan x="417" dy="14.5">机等设备和其它物品，能够严格管理好，保证</tspan><tspan x="417" dy="14.5">文印工作顺利进行，并在工作中学会这些设备</tspan><tspan x="417" dy="14.5">的简单维修与保养。</tspan></text>
</g>
<g id="p6l5">
<rect class="box" x="671" y="2834" width="136" height="26.5" rx="4"/>
<text class="t" x="677" y="2851.5">五、不足之处和今后打算</text>
</g>
<g id="p6t5">
<rect class="box" x="411" y="2776" width="238" height="142.5" rx="4"/>
<text class="t" x="417" y="2793.5"><tspan x="417" dy="0">自从担任打字员工作以来，虽然在工作上取得</tspan><tspan x="417" dy="14.5">了较好地成绩，但也还存在一些不足之处。如</tspan><tspan x="417" dy="14.5">：文字功底较底，对电脑的应用和操作有待于</tspan><tspan x="417" dy="14.5">进一步提高。这些不足都需要在今后的工作中</tspan><tspan x="417" dy="14.5">加以改进。今后，我一定会倍加努力学习，刻</tspan><tspan x="417" dy="14.5">苦钻研文秘知识、电脑知识、企业管理知识等</tspan><tspan x="417" dy="14.5">各方面的知识，努力提高自身综合素质，力争</tspan><tspan x="417" dy="14.5">做一名优秀的工作人员，为我们公司的兴旺发</tspan><tspan x="417" dy="14.5">达做出自己应有的贡献。</tspan></text>
</g>

<g id="watermarks">
<text class="wm" transform="translate(350,700) rotate(-30)">树图 <tspan font-family="'Liberation Serif',serif">shutu.cn</tspan></text>
<text class="wm" transform="translate(350,1700) rotate(-30)">树图 <tspan font-family="'Liberation Serif',serif">shutu.cn</tspan></text>
<text class="wm" transform="translate(350,2700) rotate(-30)">树图 <tspan font-family="'Liberation Serif',serif">shutu.cn</tspan></text>
<text class="wm" transform="translate(1650,720) rotate(-30)">树图 <tspan font-family="'Liberation Serif',serif">shutu.cn</tspan></text>
<text class="wm" transform="translate(1650,1700) rotate(-30)">树图 <tspan font-family="'Liberation Serif',serif">shutu.cn</tspan></text>
<text class="wm" transform="translate(1650,2720) rotate(-30)">树图 <tspan font-family="'Liberation Serif',serif">shutu.cn</tspan></text>
</g>
</svg>
